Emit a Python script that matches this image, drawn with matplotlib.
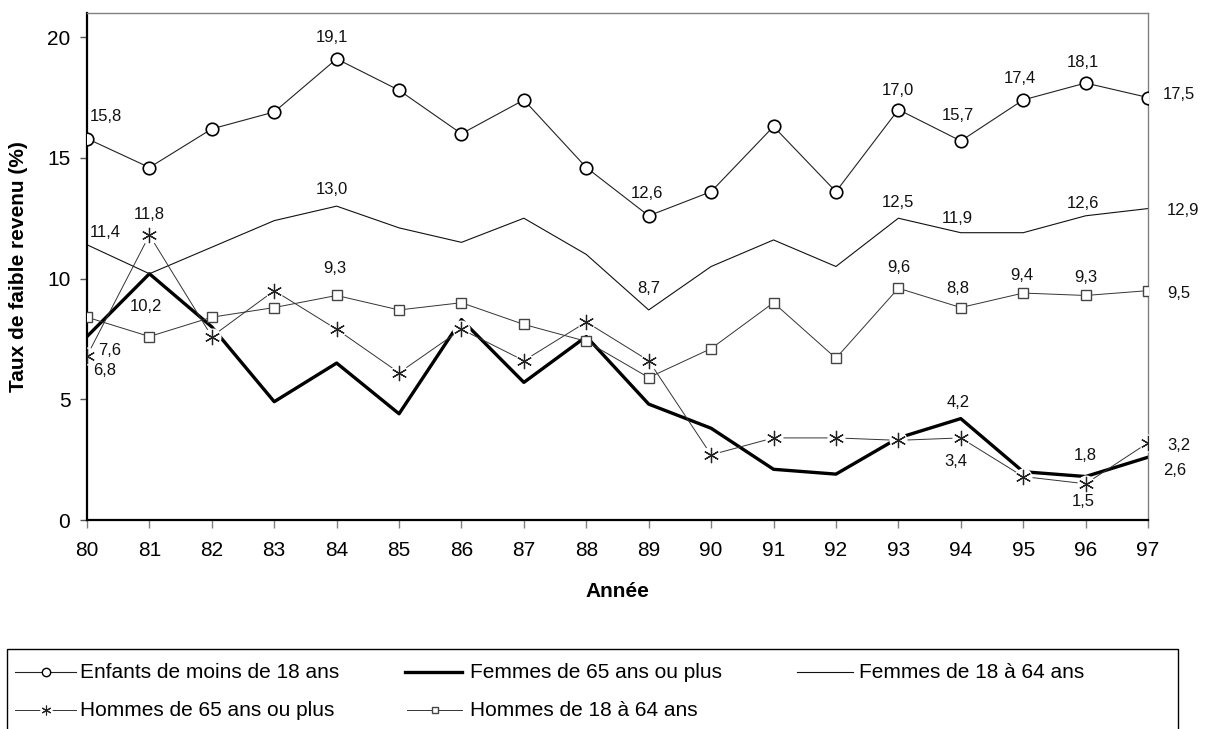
import matplotlib
matplotlib.use("Agg")
import matplotlib.pyplot as plt
from matplotlib.lines import Line2D
from matplotlib.patches import Rectangle

plt.rcParams['font.family'] = ['Liberation Sans', 'DejaVu Sans']

annees = list(range(80, 98))
etiquettes_annees = [str(a) for a in annees]

enfants = [15.8, 14.6, 16.2, 16.9, 19.1, 17.8, 16.0, 17.4, 14.6, 12.6,
           13.6, 16.3, 13.6, 17.0, 15.7, 17.4, 18.1, 17.5]
femmes_65 = [7.6, 10.2, 8.0, 4.9, 6.5, 4.4, 8.3, 5.7, 7.6, 4.8,
             3.8, 2.1, 1.9, 3.4, 4.2, 2.0, 1.8, 2.6]
femmes_18_64 = [11.4, 10.2, 11.3, 12.4, 13.0, 12.1, 11.5, 12.5, 11.0, 8.7,
                10.5, 11.6, 10.5, 12.5, 11.9, 11.9, 12.6, 12.9]
hommes_65 = [6.8, 11.8, 7.6, 9.5, 7.9, 6.1, 7.9, 6.6, 8.2, 6.6,
             2.7, 3.4, 3.4, 3.3, 3.4, 1.8, 1.5, 3.2]
hommes_18_64 = [8.4, 7.6, 8.4, 8.8, 9.3, 8.7, 9.0, 8.1, 7.4, 5.9,
                7.1, 9.0, 6.7, 9.6, 8.8, 9.4, 9.3, 9.5]

noms = ["Enfants de moins de 18 ans", "Femmes de 65 ans ou plus",
        "Femmes de 18 à 64 ans", "Hommes de 65 ans ou plus",
        "Hommes de 18 à 64 ans"]

# labelled years per series, with offset in pixels (dx, dy down) and alignment
lab_enfants = [(80, 3, -22, 'left'), (84, -5, -21, 'center'), (89, -2, -22, 'center'),
               (93, 0, -19, 'center'), (94, -3, -25, 'center'), (95, -3, -21, 'center'),
               (96, -3, -21, 'center'), (97, 15, -3, 'left')]
lab_f1864 = [(80, 3, -12, 'left'), (84, -5, -17, 'center'), (89, 0, -21, 'center'),
             (93, 0, -16, 'center'), (94, -3, -14, 'center'), (96, -3, -12, 'center'),
             (97, 19, 2, 'left')]
lab_h1864 = [(84, -2, -27, 'center'), (93, 0, -21, 'center'), (94, -3, -19, 'center'),
             (95, -1, -18, 'center'), (96, 0, -18, 'center'), (97, 19, 3, 'left')]
lab_h65 = [(80, 6, 15, 'left'), (81, 0, -21, 'center'), (94, -5, 24, 'center'),
           (96, -2, 18, 'center'), (97, 19, 3, 'left')]
lab_f65 = [(80, 11, 14, 'left'), (81, -3, 33, 'center'), (94, -3, -16, 'center'),
           (96, 0, -21, 'center'), (97, 15, 13, 'left')]

W, H = 1207, 729
fig = plt.figure(figsize=(W / 100, H / 100), dpi=100)
ax = fig.add_axes([87 / W, 1 - 520 / H, (1148 - 87) / W, (520 - 13) / H])

star = (6, 2, 0)

ax.plot(annees, femmes_65, color='black', lw=2.4, zorder=2)
ax.plot(annees, femmes_18_64, color='#111111', lw=0.8, zorder=2)
ax.plot(annees, hommes_65, color='#333333', lw=0.7, zorder=3)
ax.plot(annees, hommes_65, ls='none', marker='o', ms=13, mfc='white', mec='none', zorder=3.1)
ax.plot(annees, hommes_65, ls='none', marker=star, ms=11, mec='#222222', mew=0.9, zorder=3.2)
ax.plot(annees, hommes_18_64, color='#333333', lw=0.7, marker='s', ms=7,
        mfc='white', mec='#444444', mew=1.0, zorder=4)
ax.plot(annees, enfants, color='#222222', lw=0.8, marker='o', ms=9,
        mfc='white', mec='black', mew=1.2, zorder=5)


def etiqueter(serie, labels):
    for an, dx, dy, ha in labels:
        v = serie[annees.index(an)]
        ax.annotate(f"{v:.1f}".replace('.', ','), (an, v),
                    xytext=(dx * 0.72, -dy * 0.72), textcoords='offset points',
                    ha=ha, va='center', fontsize=12, color='#111111',
                    annotation_clip=False, zorder=6)


etiqueter(enfants, lab_enfants)
etiqueter(femmes_18_64, lab_f1864)
etiqueter(hommes_18_64, lab_h1864)
etiqueter(hommes_65, lab_h65)
etiqueter(femmes_65, lab_f65)

ax.set_xlim(80, 97)
ax.set_ylim(0, 21)
ax.set_xticks(annees)
ax.set_xticklabels(etiquettes_annees)
ax.set_yticks([0, 5, 10, 15, 20])

for s in ['left', 'bottom']:
    ax.spines[s].set_color('black')
    ax.spines[s].set_linewidth(1.6)
for s in ['top', 'right']:
    ax.spines[s].set_color('#808080')
    ax.spines[s].set_linewidth(1.0)

ax.tick_params(axis='y', length=5, width=1, color='#555555', pad=7, labelsize=15)
ax.tick_params(axis='x', length=6, width=1, color='#808080', pad=9, labelsize=15)

ax.set_xlabel("Année", fontsize=15, fontweight='bold', labelpad=16)
ax.set_ylabel("Taux de faible revenu (%)", fontsize=15, fontweight='bold', labelpad=14)

# legend box drawn in pixel coordinates under the chart
lax = fig.add_axes([0, 0, 1, 1], zorder=-1)
lax.set_xlim(0, W)
lax.set_ylim(H, 0)
lax.axis('off')
lax.add_patch(Rectangle((7, 649), 1178 - 7, 100, fill=False, ec='black', lw=1.0))

entrees = [
    (15, 76, 80, 672, dict(color='#222222', lw=0.8, marker='o', ms=6, mfc='white', mec='black')),
    (405, 462, 470, 672, dict(color='black', lw=2.4)),
    (797, 853, 859, 672, dict(color='#111111', lw=0.8)),
    (15, 76, 80, 710, dict(color='#333333', lw=0.7)),
    (407, 462, 470, 710, dict(color='#333333', lw=0.7, marker='s', ms=5, mfc='white', mec='#444444')),
]
for (x0, x1, xt, y, style), nom in zip(entrees, noms):
    lax.add_line(Line2D([x0, (x0 + x1) / 2, x1], [y, y, y], markevery=[1], **style))
    lax.text(xt, y, nom, fontsize=15, va='center', ha='left')
# asterisk handle with its white gap
lax.plot([(15 + 76) / 2], [710], ls='none', marker='o', ms=9, mfc='white', mec='none')
lax.plot([(15 + 76) / 2], [710], ls='none', marker=star, ms=7, mec='#222222', mew=0.8)

fig.savefig("out.png", dpi=100)
